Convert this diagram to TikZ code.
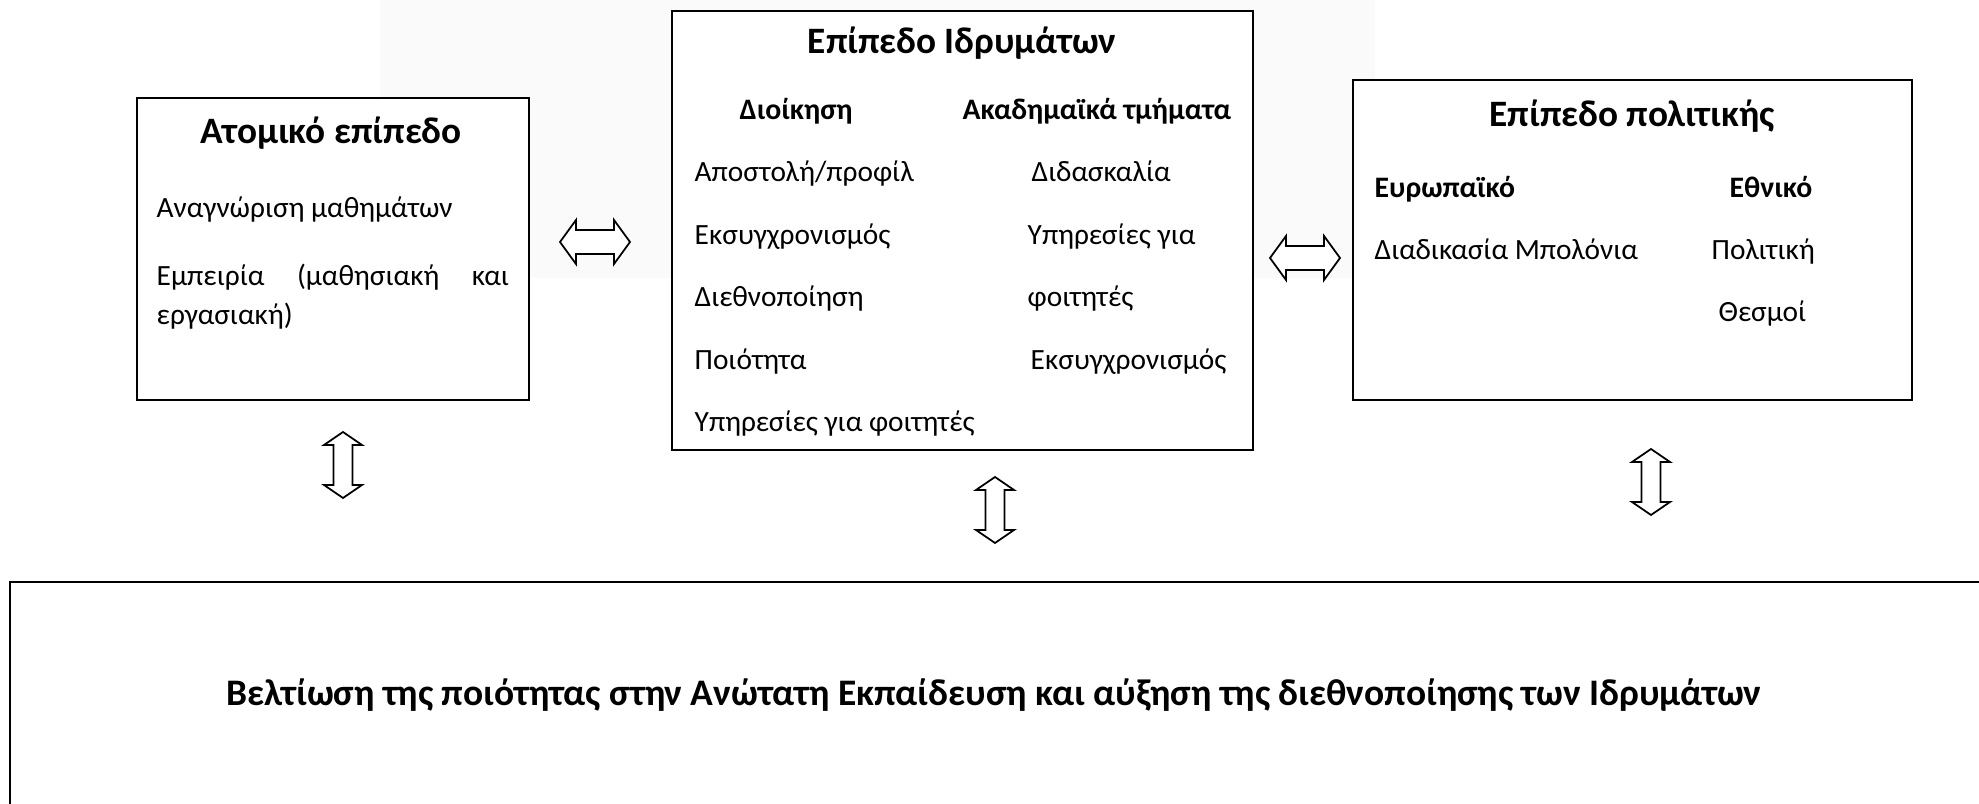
\documentclass[tikz,border=0pt]{standalone}
\usepackage{fontspec}
\setmainfont{Carlito}
\begin{document}
\begin{tikzpicture}[x=0.01cm,y=-0.01cm,
  box/.style={draw, line width=0.6pt, inner sep=0pt, fill=white},
  body/.style={font=\fontsize{8.35}{10}\selectfont, inner sep=0pt, anchor=base west},
  head/.style={font=\fontsize{8.45}{10}\selectfont\bfseries, inner sep=0pt, anchor=base west},
  ttl/.style={font=\fontsize{10.6}{12.7}\selectfont\bfseries, inner sep=0pt, anchor=base},
  blockarrow/.style={draw, line width=0.5pt, fill=white},
  harr/.pic={\path[blockarrow] (-35,0) -- (-19,-22) -- (-19,-12) -- (19,-12) -- (19,-22) -- (35,0) -- (19,22) -- (19,12) -- (-19,12) -- (-19,22) -- cycle;},
  varr/.pic={\path[blockarrow] (0,-33) -- (19,-20) -- (9.5,-20) -- (9.5,20) -- (19,20) -- (0,33) -- (-19,20) -- (-9.5,20) -- (-9.5,-20) -- (-19,-20) -- cycle;}
]
\useasboundingbox (0,0) rectangle (1979,804);
\fill[black!2] (380,0) rectangle (1375,278);

% boxes
\node[box, anchor=north west, minimum width=3.92cm, minimum height=3.02cm] (L) at (136,97) {};
\node[box, anchor=north west, minimum width=5.81cm, minimum height=4.39cm] (M) at (671,10) {};
\node[box, anchor=north west, minimum width=5.59cm, minimum height=3.20cm] (R) at (1352,79) {};
\node[box, anchor=north west, minimum width=19.9cm, minimum height=2.6cm] (B) at (9,581) {};

% left box text
\node[ttl] (Lt) at (331,144) {Ατομικό επίπεδο};
\node[body] (L1) at (156,218) {Αναγνώριση μαθημάτων};
\node[body] (L2) at (156,286) {\hbox to 100.2pt{Εμπειρία\hfill(μαθησιακή\hfill και}};
\node[body] (L3) at (156,325) {εργασιακή)};

% middle box text
\node[ttl] (Mt) at (962,54) {Επίπεδο Ιδρυμάτων};
\node[head] (Mh1) at (739,120) {Διοίκηση};
\node[head] (Mh2) at (962,120) {Ακαδημαϊκά τμήματα};
\node[body] (Ma1) at (694,182) {Αποστολή/προφίλ};
\node[body] (Ma2) at (694,245) {Εκσυγχρονισμός};
\node[body] (Ma3) at (694,307) {Διεθνοποίηση};
\node[body] (Ma4) at (694,370) {Ποιότητα};
\node[body] (Ma5) at (694,432) {Υπηρεσίες για φοιτητές};
\node[body] (Mb1) at (1031,182) {Διδασκαλία};
\node[body] (Mb2) at (1027,245) {Υπηρεσίες για};
\node[body] (Mb3) at (1027,307) {φοιτητές};
\node[body] (Mb4) at (1030,370) {Εκσυγχρονισμός};

% right box text
\node[ttl] (Rt) at (1632,127) {Επίπεδο πολιτικής};
\node[head] (Rh1) at (1374,198) {Ευρωπαϊκό};
\node[head, anchor=base east] (Rh2) at (1813,198) {Εθνικό};
\node[body] (Ra1) at (1374,260) {Διαδικασία Μπολόνια};
\node[body] (Rb1) at (1711,260) {Πολιτική};
\node[body] (Rb2) at (1718,322) {Θεσμοί};

% bottom text
\node[ttl, font=\fontsize{10.65}{12.8}\selectfont\bfseries] (Bt) at (994,706) {Βελτίωση της ποιότητας στην Ανώτατη Εκπαίδευση και αύξηση της διεθνοποίησης των Ιδρυμάτων};

% block arrows
\pic (aLM) at (595,242) {harr};
\pic (aMR) at (1305,258) {harr};
\pic (aLB) at (343,465) {varr};
\pic (aMB) at (995,510) {varr};
\pic (aRB) at (1651,482) {varr};
\end{tikzpicture}
\end{document}
